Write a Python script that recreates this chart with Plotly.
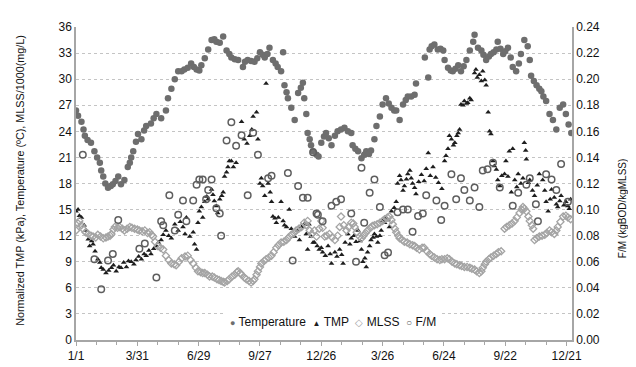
import pandas as pd
import plotly.graph_objects as go

START = "2012-01-01"

# Temperature (deg C): day offset from 1/1 and value
temp_day = [0, 3, 8, 11, 13, 17, 22, 27, 31, 35,
            37, 40, 43, 47, 51, 54, 58, 62, 66, 71,
            76, 79, 81, 84, 88, 91, 96, 100, 103, 110,
            114, 118, 125, 132, 135, 140, 145, 150, 155, 159,
            164, 169, 173, 177, 181, 184, 189, 194, 199, 203,
            206, 211, 216, 221, 225, 228, 233, 238, 245, 248,
            252, 257, 262, 266, 270, 274, 277, 281, 284, 289,
            293, 296, 301, 304, 306, 309, 311, 316, 321, 326,
            330, 333, 335, 338, 340, 343, 345, 348, 353, 356,
            360, 364, 367, 371, 375, 380, 384, 389, 394, 399,
            404, 406, 410, 414, 419, 423, 426, 430, 433, 438,
            441, 446, 450, 455, 459, 463, 467, 470, 475, 480,
            484, 487, 492, 497, 499, 512, 517, 519, 522,
            526, 531, 535, 539, 541, 546, 550, 553, 557, 561,
            565, 569, 573, 578, 583, 585, 590, 595, 598, 602,
            606, 609, 613, 617, 619, 623, 627, 630, 634, 638,
            641, 646, 650, 653, 658, 663, 666, 668, 672, 676,
            680, 683, 686, 690, 695, 700, 705, 710, 715, 719,
            723, 727]
temp_val = [26.4, 25.8, 25.1, 24.2, 23.5, 23.0, 22.7, 21.7, 21.0, 20.4,
            19.5, 18.8, 18.0, 17.5, 17.7, 17.9, 18.3, 18.8, 17.9, 18.4,
            19.9, 20.4, 21.0, 21.7, 22.8, 23.7, 23.1, 24.1, 24.6, 24.9,
            25.5, 26.0, 25.5, 26.4, 27.8, 28.9, 30.0, 30.9, 30.9, 31.1,
            31.3, 31.8, 31.4, 31.1, 31.0, 31.6, 32.4, 33.4, 34.5, 34.6,
            34.3, 34.2, 34.9, 33.3, 32.9, 32.5, 32.3, 32.2, 31.4, 32.0,
            32.2, 32.1, 32.0, 32.4, 33.1, 32.8, 32.5, 32.9, 33.6, 32.2,
            31.8, 31.4, 30.9, 33.1, 29.3, 28.5, 27.8, 26.7, 25.3, 28.4,
            29.0, 29.6, 27.8, 26.0, 23.8, 23.1, 22.4, 21.7, 21.3, 21.1,
            22.7, 23.4, 23.8, 23.2, 22.4, 23.5, 24.0, 24.2, 24.4, 24.0,
            23.8, 22.4, 22.0, 21.7, 20.9, 21.3, 21.7, 21.4, 21.8, 23.1,
            24.6, 25.7, 27.1, 27.8, 27.2, 26.7, 26.4, 26.4, 25.3, 27.1,
            27.6, 28.0, 28.0, 28.2, 29.5, 32.5, 30.2, 33.4, 33.8,
            34.0, 33.4, 33.5, 33.3, 32.2, 31.3, 31.0, 30.9, 31.2, 31.6,
            30.9, 31.5, 32.2, 33.3, 34.3, 35.1, 33.6, 33.3, 32.8, 32.2,
            32.6, 32.9, 33.1, 33.4, 34.3, 33.5, 32.9, 33.2, 33.6, 32.5,
            31.4, 30.9, 31.8, 32.9, 34.5, 33.8, 32.2, 30.4, 29.8, 29.3,
            28.9, 28.6, 28.0, 27.5, 26.0, 25.3, 24.2, 26.7, 27.1, 26.0,
            24.8, 23.8]

# Normalized TMP (kPa)
tmp_day = [0, 3, 5, 8, 12, 15, 18, 20, 23, 25,
           28, 32, 35, 37, 40, 44, 48, 52, 55, 59,
           63, 66, 70, 74, 77, 81, 85, 88, 92, 96,
           100, 103, 107, 110, 114, 118, 121, 125, 128, 132,
           136, 140, 145, 150, 153, 157, 160, 162, 167, 172,
           174, 177, 179, 181, 184, 186, 189, 192, 194, 199,
           201, 203, 206, 208, 211, 214, 216, 218, 221, 223,
           225, 228, 231, 235, 243, 247, 251, 255, 258, 260,
           265, 267, 270, 272, 274, 277, 279, 282, 285, 287,
           289, 292, 294, 297, 301, 304, 306, 309, 313, 316,
           321, 325, 328, 331, 335, 338, 340, 342, 345, 348,
           350, 354, 357, 360, 362, 366, 370, 373, 375, 380,
           383, 387, 390, 392, 395, 399, 402, 404, 408, 411,
           414, 417, 419, 421, 424, 426, 428, 431, 433, 436,
           438, 441, 443, 446, 448, 450, 453, 455, 458, 460,
           463, 467, 470, 472, 475, 477, 480, 482, 485, 487,
           490, 492, 494, 497, 499, 503, 507, 511, 514, 517,
           520, 524, 528, 532, 537, 541, 543, 546, 548, 551,
           554, 556, 559, 561, 563, 565, 568, 570, 573, 575,
           578, 580, 585, 587, 589, 592, 595, 597, 600, 602,
           605, 607, 609, 612, 614, 617, 619, 622, 625, 629,
           631, 634, 636, 639, 641, 644, 647, 649, 653, 656,
           658, 660, 661, 664, 666, 670, 673, 677, 680, 685,
           688, 690, 693, 696, 698, 702, 705, 707, 710, 712,
           716, 719, 722, 724, 726]
tmp_val = [14.8, 15.0, 14.3, 14.1, 13.2, 12.6, 11.6, 10.8, 11.4, 11.0,
           10.2, 9.3, 8.9, 8.3, 8.1, 7.7, 8.0, 8.3, 8.6, 7.9,
           8.4, 8.3, 8.9, 8.4, 9.1, 9.0, 8.7, 9.2, 9.6, 9.3,
           9.9, 9.7, 10.3, 9.9, 10.5, 10.8, 11.2, 11.5, 12.1, 12.6,
           12.0, 11.7, 13.3, 12.6, 13.6, 13.0, 12.2, 14.1, 11.9, 12.4,
           11.0, 10.4, 13.5, 14.8, 15.3, 14.1, 15.9, 16.5, 16.2, 17.3,
           16.7, 16.0, 15.4, 14.6, 16.2, 16.6, 17.0, 18.8, 19.3, 19.9,
           20.6, 20.6, 19.9, 20.4, 25.1, 23.1, 22.6, 23.5, 24.2, 25.7,
           26.2, 23.1, 18.0, 18.6, 17.7, 16.6, 29.5, 18.0, 17.0, 15.9,
           14.2, 14.0, 13.5, 14.1, 15.9, 13.7, 13.2, 13.0, 15.0, 12.8,
           11.9, 12.6, 11.5, 13.0, 13.3, 12.2, 10.4, 13.3, 11.9, 11.2,
           11.2, 10.8, 10.4, 10.6, 10.1, 9.7, 10.8, 9.9, 8.8, 10.1,
           9.6, 10.4, 9.8, 8.8, 11.2, 12.2, 11.0, 11.7, 12.0, 11.3,
           12.6, 11.4, 10.4, 9.0, 9.4, 8.4, 10.1, 10.8, 11.5, 11.8,
           12.2, 11.9, 11.2, 12.0, 12.6, 13.7, 13.5, 14.1, 13.8, 13.0,
           14.8, 15.2, 15.9, 18.0, 18.9, 18.4, 17.2, 17.7, 18.5, 19.1,
           19.5, 18.6, 18.0, 17.5, 16.8, 18.2, 19.0, 18.3, 19.7, 21.5,
           18.9, 19.9, 18.7, 18.1, 17.4, 20.6, 21.2, 22.0, 23.5, 23.1,
           22.4, 22.7, 23.5, 23.8, 24.2, 27.1, 27.0, 27.5, 27.2, 27.3,
           27.8, 27.6, 30.7, 31.1, 30.2, 30.5, 29.8, 30.9, 29.9, 29.3,
           26.2, 24.0, 23.7, 20.6, 20.0, 19.6, 18.4, 17.7, 18.9, 19.1,
           20.6, 18.8, 21.7, 17.0, 22.0, 18.4, 17.6, 19.1, 18.0, 18.6,
           22.7, 21.8, 20.8, 18.1, 18.4, 17.2, 16.6, 17.8, 19.1, 18.4,
           17.2, 15.9, 14.8, 16.2, 17.3, 16.4, 15.6, 15.3, 16.0, 16.6,
           15.5, 15.9, 15.4, 15.1, 16.2]

# MLSS / 1000 (mg/L)
mlss_day = [0, 3, 5, 8, 10, 14, 18, 22, 25, 29,
            32, 36, 40, 44, 47, 50, 52, 55, 57, 61,
            64, 68, 71, 75, 79, 82, 86, 90, 93, 97,
            101, 105, 108, 111, 113, 116, 120, 124, 128, 132,
            136, 140, 144, 147, 151, 155, 160, 164, 168, 172,
            176, 179, 183, 186, 189, 193, 196, 200, 203, 207,
            210, 213, 216, 218, 222, 225, 229, 233, 236, 238,
            241, 243, 247, 250, 254, 257, 260, 262, 265, 267,
            270, 272, 276, 279, 283, 287, 290, 294, 297, 301,
            305, 309, 312, 316, 320, 323, 327, 331, 335, 338,
            340, 343, 346, 350, 353, 357, 360, 362, 365, 368,
            372, 376, 380, 384, 387, 389, 393, 397, 400, 404,
            407, 409, 412, 416, 419, 422, 425, 428, 432, 435,
            438, 442, 446, 450, 453, 457, 460, 463, 465, 468,
            470, 473, 475, 479, 482, 486, 490, 494, 497, 500,
            504, 508, 511, 515, 519, 522, 526, 530, 534, 537,
            541, 545, 548, 552, 556, 559, 563, 566, 570, 574,
            578, 581, 585, 588, 592, 595, 597, 600, 602, 606,
            609, 613, 617, 620, 624, 629, 632, 636, 640, 644,
            647, 651, 654, 656, 658, 661, 664, 666, 669, 671,
            673, 676, 680, 684, 688, 691, 695, 698, 702, 705,
            707, 711, 715, 719, 722, 726]
mlss_val = [12.6, 13.4, 13.7, 13.2, 12.8, 12.4, 12.2, 12.0, 11.9, 11.8,
            12.1, 11.9, 11.7, 11.8, 11.9, 12.0, 12.2, 12.7, 13.0, 12.9,
            13.0, 12.8, 12.6, 12.8, 13.0, 12.9, 12.8, 12.7, 12.6, 12.5,
            12.6, 12.3, 12.4, 12.1, 11.9, 11.3, 10.8, 10.6, 10.4, 9.7,
            9.2, 8.8, 8.7, 8.6, 9.0, 9.4, 9.6, 9.7, 9.2, 8.8,
            8.3, 7.9, 7.8, 7.7, 7.7, 7.5, 7.3, 7.3, 7.2, 7.0,
            6.9, 6.8, 6.7, 6.6, 6.8, 7.0, 7.3, 7.5, 7.8, 7.9,
            7.7, 7.5, 7.2, 7.0, 6.8, 6.6, 6.8, 7.0, 7.5, 7.9,
            8.4, 8.8, 9.1, 9.3, 9.5, 9.7, 10.1, 10.6, 10.9, 11.2,
            11.3, 11.5, 11.8, 12.1, 12.3, 12.6, 12.8, 13.0, 13.5, 13.2,
            13.7, 12.6, 12.2, 12.6, 11.9, 12.8, 13.7, 12.9, 11.9, 12.0,
            12.2, 11.8, 11.5, 12.0, 13.0, 14.2, 13.2, 12.6, 13.0, 13.5,
            13.4, 13.0, 12.4, 11.9, 11.7, 12.0, 12.3, 12.6, 12.9, 13.1,
            13.2, 13.3, 13.5, 13.7, 13.9, 14.1, 14.2, 13.8, 13.3, 12.8,
            12.4, 12.0, 11.7, 11.5, 11.3, 11.2, 11.0, 10.9, 10.8, 10.6,
            10.4, 10.6, 10.6, 10.2, 9.9, 9.7, 9.5, 9.3, 9.2, 9.3,
            9.3, 9.4, 9.3, 9.0, 8.8, 8.7, 8.6, 8.5, 8.4, 8.4,
            8.3, 8.2, 8.1, 7.9, 7.7, 7.9, 8.3, 8.7, 9.0, 9.3,
            9.5, 9.7, 9.9, 10.1, 10.2, 12.8, 13.0, 13.2, 13.4, 13.7,
            14.1, 14.6, 15.0, 15.3, 15.1, 14.8, 14.2, 13.7, 13.2, 12.8,
            11.5, 11.7, 11.9, 12.0, 12.1, 12.3, 12.6, 12.4, 12.2, 12.6,
            13.0, 13.6, 14.2, 14.3, 14.1, 13.9]

# F/M (kgBOD/kgMLSS), right axis
fm_day = [10, 27, 37, 47, 54, 62, 93, 101, 118, 125,
          128, 137, 145, 150, 157, 162, 172, 177, 181, 186,
          191, 194, 199, 206, 211, 213, 221, 228, 235, 243,
          252, 260, 267, 282, 287, 311, 318, 326, 333, 340,
          348, 353, 355, 362, 375, 382, 389, 404, 411, 419,
          423, 431, 438, 446, 453, 458, 472, 480, 487, 494,
          502, 509, 514, 529, 536, 541, 551, 558, 565, 570,
          578, 585, 592, 597, 604, 612, 622, 641, 649, 661,
          666, 675, 678, 690, 698, 705, 712, 722]
fm_val = [0.142, 0.062, 0.039, 0.061, 0.066, 0.092, 0.070, 0.074, 0.048, 0.091,
          0.088, 0.111, 0.084, 0.096, 0.107, 0.091, 0.107, 0.119, 0.123, 0.123,
          0.108, 0.115, 0.123, 0.101, 0.097, 0.080, 0.153, 0.167, 0.149, 0.157,
          0.111, 0.159, 0.142, 0.124, 0.126, 0.128, 0.061, 0.118, 0.109, 0.109,
          0.144, 0.097, 0.096, 0.091, 0.103, 0.106, 0.108, 0.097, 0.060, 0.132,
          0.090, 0.113, 0.123, 0.102, 0.065, 0.067, 0.098, 0.100, 0.100, 0.083,
          0.095, 0.097, 0.111, 0.107, 0.092, 0.103, 0.127, 0.108, 0.124, 0.115,
          0.107, 0.117, 0.102, 0.130, 0.131, 0.136, 0.117, 0.103, 0.113, 0.119,
          0.124, 0.104, 0.091, 0.127, 0.123, 0.115, 0.135, 0.106]

left_ticks = list(range(0, 37, 3))
right_ticks = [0.00, 0.02, 0.04, 0.06, 0.08, 0.10, 0.12, 0.14, 0.16, 0.18, 0.20, 0.22, 0.24]
series_names = ["Temperature", "TMP", "MLSS", "F/M"]

C_TEMP, C_TMP, C_MLSS, C_FM = "#6e6e6e", "#1e1e1e", "#a4a4a4", "#5e5e5e"


def to_dates(days):
    return pd.Timestamp(START) + pd.to_timedelta(days, unit="D")


FONT = "Liberation Sans, Arial, sans-serif"
fig = go.Figure()
fig.add_trace(go.Scatter(x=to_dates(temp_day), y=temp_val, mode="markers", name=series_names[0],
                         marker=dict(symbol="circle", size=6.5, color=C_TEMP)))
fig.add_trace(go.Scatter(x=to_dates(tmp_day), y=tmp_val, mode="markers", name=series_names[1],
                         marker=dict(symbol="triangle-up", size=5, color=C_TMP)))
fig.add_trace(go.Scatter(x=to_dates(mlss_day), y=mlss_val, mode="markers", name=series_names[2],
                         marker=dict(symbol="diamond-open", size=5.5, color=C_MLSS,
                                     line=dict(width=1.3))))
fig.add_trace(go.Scatter(x=to_dates(fm_day), y=fm_val, mode="markers", name=series_names[3],
                         yaxis="y2",
                         marker=dict(symbol="circle-open", size=6.5, color=C_FM,
                                     line=dict(width=1.5))))

legend_text = (
    f"<span style='color:{C_TEMP};font-size:9px'>●</span> {series_names[0]}  "
    f"<span style='color:{C_TMP};font-size:8px'>▲</span> {series_names[1]}  "
    f"<span style='color:{C_MLSS};font-size:10px'>◇</span> {series_names[2]}  "
    f"<span style='color:{C_FM};font-size:10px'>○</span> {series_names[3]}"
)

DAY = 86400000
fig.update_layout(
    width=636, height=367,
    margin=dict(l=68, r=72, t=15, b=21),
    paper_bgcolor="white", plot_bgcolor="white",
    font=dict(family=FONT, size=12, color="#222222"),
    showlegend=False,
    xaxis=dict(type="date", range=[START, "2013-12-29"], tick0=START, dtick=90 * DAY,
               tickformat="%-m/%-d", showgrid=False, showline=True, linecolor="#a6a6a6",
               linewidth=1.5, ticks="outside", ticklen=4, tickcolor="#a6a6a6",
               tickfont=dict(size=12, color="#111111"),
               minor=dict(dtick=30 * DAY, tick0=START, ticks="outside", ticklen=3,
                          tickcolor="#a6a6a6", showgrid=False),
               zeroline=False),
    yaxis=dict(range=[0, 36], tickvals=left_ticks, showgrid=True, gridcolor="#c4c4c4",
               griddash="dot", gridwidth=1, showline=True, linecolor="#a6a6a6", linewidth=1.5,
               ticks="", tickfont=dict(size=12, color="#111111"), zeroline=False),
    yaxis2=dict(range=[0, 0.24], tickvals=right_ticks, tickformat=".2f", overlaying="y",
                side="right", showgrid=False, showline=True, linecolor="#a6a6a6", linewidth=1.5,
                ticks="", tickfont=dict(size=12, color="#111111"), zeroline=False),
    annotations=[
        dict(text="Normalized TMP (kPa), Temperature (ºC), MLSS/1000(mg/L)", xref="paper",
             yref="paper", x=-0.112, y=0.51, xanchor="center", yanchor="middle", textangle=-90,
             showarrow=False, font=dict(size=10.8, color="#111111")),
        dict(text="F/M (kgBOD/kgMLSS)", xref="paper", yref="paper", x=1.102, y=0.42,
             xanchor="center", yanchor="middle", textangle=-90, showarrow=False,
             font=dict(size=10, color="#111111")),
        dict(text=legend_text, xref="paper", yref="paper", x=0.518, y=0.056,
             xanchor="center", yanchor="middle", showarrow=False, bgcolor="white",
             borderpad=4, font=dict(size=12, color="#111111")),
    ],
)

fig.write_html("out.html")
